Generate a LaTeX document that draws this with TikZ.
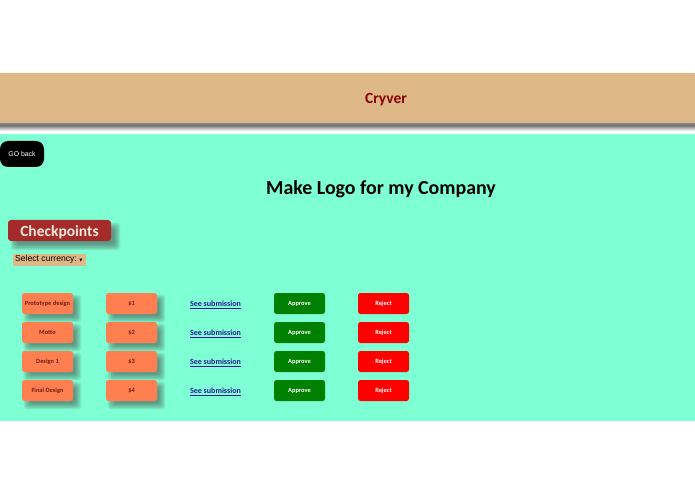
\documentclass[tikz,border=0pt]{standalone}
\usepackage{fontspec}
\setmainfont{Carlito}
\newfontfamily\arialf{Liberation Sans}
\definecolor{tan1}{HTML}{DEB887}
\definecolor{aqua1}{HTML}{7FFFD4}
\definecolor{brown1}{HTML}{A52A2A}
\definecolor{coral1}{HTML}{FF7F50}
\definecolor{dred}{HTML}{8B0000}
\definecolor{grn}{HTML}{008000}
\definecolor{linkc}{HTML}{2A1A9A}
% soft shadow: x1,y1,x2,y2 of the shadow box
\newcommand{\softshade}[4]{%
  \foreach \e in {3.4,2.6,1.8,1,0.2,-0.6,-1.4,-2.2,-3}{%
    \fill[black!75,opacity=0.075,rounded corners=3pt]
      ({#1-\e},{#2-\e}) rectangle ({#3+\e},{#4+\e});
  }%
}
\tikzset{
  x=1pt,y=-1pt,
  btn/.style={rounded corners=2.5pt,minimum width=51pt,minimum height=21pt,inner sep=0pt,
     font=\bfseries\fontsize{6.4}{7}\selectfont},
  coralbtn/.style={btn,fill=coral1,text=brown1!70!black},
  okbtn/.style={btn,fill=grn,text=white},
  nobtn/.style={btn,fill=red,text=white},
  seelink/.style={inner sep=0pt,text=linkc,font=\bfseries\fontsize{8}{9}\selectfont},
}
\begin{document}
\begin{tikzpicture}
\useasboundingbox (0,0) rectangle (695,494);
\fill[white] (0,0) rectangle (695,494);
% banner shadow
\fill[black!48] (0,123) rectangle (695,126);
\shade[top color=black!48,bottom color=white] (0,126) rectangle (695,131);
\fill[aqua1] (0,134) rectangle (695,421);
\node[fill=tan1,minimum width=695pt,minimum height=50pt,inner sep=0pt] (banner) at (347.5,98) {};
\node[text=dred,font=\bfseries\fontsize{15.5}{18}\selectfont] (title) at (386,99.5) {Cryver};
% go back
\node[fill=black,text=white,rounded corners=8pt,minimum width=44pt,minimum height=26pt,inner sep=0pt,
   font=\arialf\fontsize{6.9}{9}\selectfont] (goback) at (22,154) {GO back};
\node[text=black,font=\bfseries\fontsize{19.9}{24}\selectfont] (heading) at (381,189.5) {Make Logo for my Company};
% checkpoints
\softshade{14}{226}{117}{247}
\node[fill=brown1,rounded corners=3pt,minimum width=103pt,minimum height=21pt,inner sep=0pt] (check) at (59.5,230.5) {};
\node[text=tan1!30!white,inner sep=0pt,font=\bfseries\fontsize{15.5}{18}\selectfont] (checktext) at (59.5,232) {Checkpoints};
\node[fill=tan1,minimum width=73pt,minimum height=12pt,inner sep=0pt] (selectbg) at (49.5,260) {};
\node[text=black,inner sep=0pt,anchor=west,font=\arialf\fontsize{8.6}{10}\selectfont] (select) at (15,259.7) {Select currency:};
\fill[black] (79.3,258.6) -- (82.3,258.6) -- (80.8,261.6) -- cycle;
% rows
\foreach \r/\yy/\lab/\pr in {a/303.5/Prototype design/\$1,b/332.5/Motto/\$2,c/361.5/Design 1/\$3,d/390.5/Final Design/\$4}{
  \softshade{27}{\yy-5.5}{78}{\yy+15.5}
  \softshade{111}{\yy-5.5}{162}{\yy+15.5}
  \node[coralbtn] (item\r) at (47.5,\yy) {\lab};
  \node[coralbtn] (price\r) at (131.5,\yy) {\pr};
  \node[seelink] (see\r) at (215.5,\yy+1) {\underline{See submission}};
  \node[okbtn] (ok\r) at (299.5,\yy) {Approve};
  \node[nobtn] (no\r) at (383.5,\yy) {Reject};
}
\end{tikzpicture}
\end{document}
